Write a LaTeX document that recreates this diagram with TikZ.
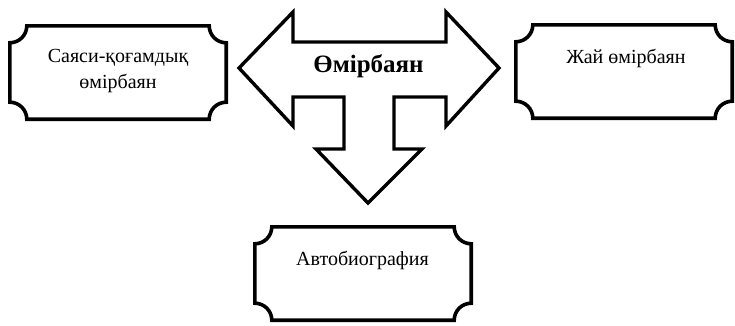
\documentclass[tikz,border=0pt]{standalone}
\usepackage{fontspec}
\setmainfont{Liberation Serif}
\newcommand\plaqueframe[1]{%
  \draw[plaque] ([yshift=-17pt]#1.north west) arc[start angle=-90,end angle=0,radius=17pt]
    -- ([xshift=-17pt]#1.north east) arc[start angle=180,end angle=270,radius=17pt]
    -- ([yshift=17pt]#1.south east) arc[start angle=90,end angle=180,radius=17pt]
    -- ([xshift=17pt]#1.south west) arc[start angle=0,end angle=90,radius=17pt]
    -- cycle;}
\begin{document}
\begin{tikzpicture}[x=1pt,y=1pt,
  plaque/.style={line width=3.6pt, line join=miter},
  boxarea/.style={minimum width=216pt, minimum height=93pt, inner sep=0pt},
  label/.style={font=\fontsize{20}{25.5}\selectfont, align=center, inner sep=0pt, anchor=base},
  bigarrow/.style={line width=3.4pt, line join=miter, miter limit=10}]
\useasboundingbox (0,0) rectangle (735,325);
% boxes
\node[boxarea] (L) at (118,252.5) {};
\node[boxarea] (R) at (624,253.5) {};
\node[boxarea] (B) at (363,51.5) {};
\plaqueframe{L}
\plaqueframe{R}
\plaqueframe{B}
\node[label] (Lt) at (118,237) {Саяси-қоғамдық\\өмірбаян};
\node[label] (Rt) at (626,262) {Жай өмірбаян};
\node[label] (Bt) at (362.5,60) {Автобиография};
% central three-way arrow
\draw[bigarrow] (239,257) -- (293,313) -- (293,283) -- (446,283) -- (446,313)
  -- (499,257) -- (446,199) -- (446,228) -- (394,228) -- (394,176)
  -- (422,176) -- (368,122) -- (316,176) -- (344,176) -- (344,228)
  -- (293,228) -- (293,199) -- cycle;
\node[font=\fontsize{25}{30}\selectfont\bfseries, inner sep=0pt, anchor=base] (M) at (368.5,253) {Өмірбаян};
\end{tikzpicture}
\end{document}
